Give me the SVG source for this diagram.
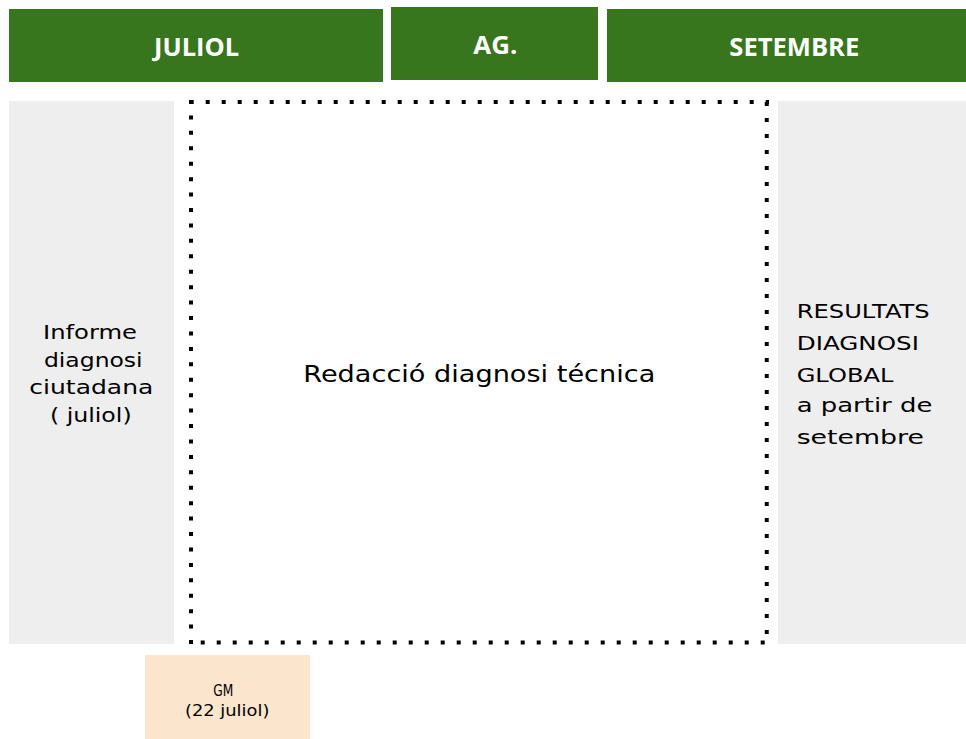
<svg xmlns="http://www.w3.org/2000/svg" width="966" height="739" viewBox="0 0 966 739">
<style>
.hdr{fill:#38761d}
.hdrt{fill:#ffffff;font-family:"Open Sans","DejaVu Sans",sans-serif;font-weight:700;font-size:25.5px;text-anchor:middle}
.gray{fill:#eeeeee}
.t{fill:#000000;font-family:"DejaVu Sans","Open Sans",sans-serif}
.c{text-anchor:middle}
.dot{stroke:#000000;stroke-width:4;fill:none}
</style>
<rect width="966" height="739" fill="#ffffff"/>
<g id="juliol">
<rect class="hdr" x="9" y="9" width="374" height="73"/>
<text class="hdrt" x="196.5" y="56" textLength="85" lengthAdjust="spacingAndGlyphs">JULIOL</text>
</g>
<g id="agost">
<rect class="hdr" x="391" y="7" width="207" height="73"/>
<text class="hdrt" x="495.3" y="54.3" textLength="44" lengthAdjust="spacingAndGlyphs">AG.</text>
</g>
<g id="setembre">
<rect class="hdr" x="607" y="9" width="374" height="73"/>
<text class="hdrt" x="794.3" y="56" textLength="130" lengthAdjust="spacingAndGlyphs">SETEMBRE</text>
</g>
<g id="informe">
<rect class="gray" x="9" y="101" width="165" height="543"/>
<text class="t c" font-size="19.5" x="90" y="339" textLength="94" lengthAdjust="spacingAndGlyphs">Informe</text>
<text class="t c" font-size="19.5" x="93.3" y="366.5" textLength="98.7" lengthAdjust="spacingAndGlyphs">diagnosi</text>
<text class="t c" font-size="19.5" x="91.3" y="394" textLength="124" lengthAdjust="spacingAndGlyphs">ciutadana</text>
<text class="t c" font-size="19.5" x="90.8" y="421.5" textLength="81.7" lengthAdjust="spacingAndGlyphs">( juliol)</text>
</g>
<g id="redaccio">
<g class="dot">
<line x1="189.7" y1="102" x2="769" y2="102" stroke-dasharray="4 12"/>
<line x1="766.7" y1="102" x2="766.7" y2="644" stroke-dasharray="4 12"/>
<line x1="200.7" y1="642.5" x2="768" y2="642.5" stroke-dasharray="4 12"/>
<line x1="191" y1="100" x2="191" y2="644" stroke-dasharray="4 11.43"/>
</g>
<text class="t" font-size="23" x="303.3" y="381.7" textLength="352" lengthAdjust="spacingAndGlyphs">Redacció diagnosi técnica</text>
</g>
<g id="resultats">
<rect class="gray" x="778" y="101" width="188" height="543"/>
<text class="t" font-size="19" x="796.7" y="318" textLength="133" lengthAdjust="spacingAndGlyphs">RESULTATS</text>
<text class="t" font-size="19" x="796.7" y="350" textLength="122.3" lengthAdjust="spacingAndGlyphs">DIAGNOSI</text>
<text class="t" font-size="19" x="796.7" y="381.7" textLength="96.7" lengthAdjust="spacingAndGlyphs">GLOBAL</text>
<text class="t" font-size="19" x="796.7" y="412" textLength="135.7" lengthAdjust="spacingAndGlyphs">a partir de</text>
<text class="t" font-size="19" x="796.7" y="443.5" textLength="127.3" lengthAdjust="spacingAndGlyphs">setembre</text>
</g>
<g id="gm">
<rect x="145" y="655" width="165" height="84" fill="#fce5cd"/>
<text class="t c" font-size="15.5" x="223.3" y="695.7" textLength="20" lengthAdjust="spacingAndGlyphs">GM</text>
<text class="t c" font-size="15.5" x="227.2" y="715.7" textLength="84.3" lengthAdjust="spacingAndGlyphs">(22 juliol)</text>
</g>
</svg>
